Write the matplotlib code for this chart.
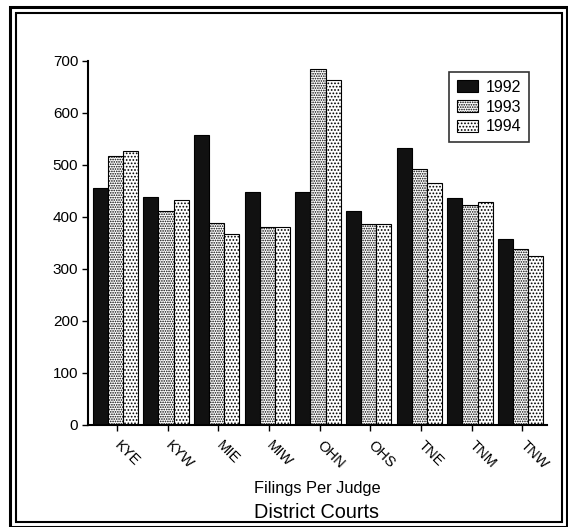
import matplotlib.pyplot as plt
import matplotlib.transforms as mtransforms
import numpy as np
from matplotlib.patches import Rectangle

plt.rcParams['font.family'] = ['Liberation Sans', 'DejaVu Sans']
plt.rcParams['hatch.linewidth'] = 0.8

courts = ['KYE', 'KYW', 'MIE', 'MIW', 'OHN', 'OHS', 'TNE', 'TNM', 'TNW']
years = ['1992', '1993', '1994']
filings_1992 = [456, 438, 558, 449, 449, 412, 532, 437, 357]
filings_1993 = [518, 411, 388, 380, 685, 387, 492, 424, 338]
filings_1994 = [526, 433, 367, 381, 663, 386, 466, 428, 325]

W, H = 568, 527
fig = plt.figure(figsize=(W / 100, H / 100), dpi=100)
ax = fig.add_axes([88 / W, 1 - 425 / H, 459 / W, 364 / H])

x = np.arange(len(courts))
bw = 0.3
styles = [
    dict(color='#111111', edgecolor='black'),
    dict(color='white', edgecolor='black', hatch='.......'),
    dict(color='white', edgecolor='black', hatch='.....'),
]
for i, (vals, yr) in enumerate(zip([filings_1992, filings_1993, filings_1994], years)):
    ax.bar(x + (i - 1) * bw - 0.03, vals, bw, label=yr, linewidth=0.8, **styles[i])

ax.set_xlim(-0.57, 8.49)
ax.set_ylim(0, 700)
ax.set_yticks(range(0, 701, 100))
ax.set_xticks(x)
ax.set_xticklabels(courts, rotation=-45, ha='left', va='center',
                   rotation_mode='anchor', fontsize=10.5)
shift = mtransforms.ScaledTranslation(-4 / 100, 0, fig.dpi_scale_trans)
for lbl in ax.get_xticklabels():
    lbl.set_transform(lbl.get_transform() + shift)
ax.tick_params(axis='x', length=4, width=1, pad=9)
ax.tick_params(axis='y', length=4, width=1, labelsize=11, pad=3)
for s in ['top', 'right']:
    ax.spines[s].set_visible(False)
for s in ['left', 'bottom']:
    ax.spines[s].set_linewidth(1.5)

leg = ax.legend(loc='upper right', bbox_to_anchor=(0.961, 0.970), fontsize=11.5,
                frameon=True, fancybox=False, edgecolor='black', borderaxespad=0,
                handlelength=1.3, handleheight=0.8, labelspacing=0.3,
                borderpad=0.5, handletextpad=0.5)
leg.get_frame().set_linewidth(1.2)

fig.text(317 / W, 1 - 488 / H, 'Filings Per Judge', ha='center', va='center', fontsize=11.8)
fig.text(317 / W, 1 - 512 / H, 'District Courts', ha='center', va='center', fontsize=14.3)

# double frame around the whole chart
fig.patches.append(Rectangle((10 / W, 0 / H), 557 / W, 520 / H, transform=fig.transFigure,
                             fill=False, edgecolor='black', linewidth=2.2))
fig.patches.append(Rectangle((16 / W, 5 / H), 546 / W, 509 / H, transform=fig.transFigure,
                             fill=False, edgecolor='black', linewidth=1.5))

fig.savefig('out.png', dpi=100)
